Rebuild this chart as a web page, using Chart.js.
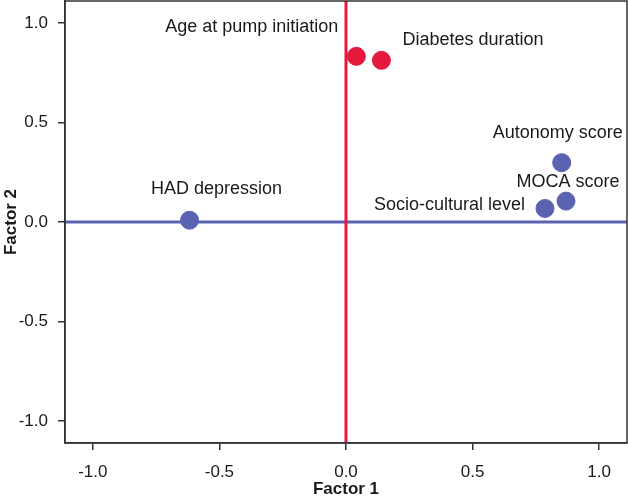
<!DOCTYPE html>
<html>
<head>
<meta charset="utf-8">
<script src="https://cdn.jsdelivr.net/npm/chart.js@4"></script>
<style>
  html, body { margin: 0; padding: 0; background: #fff; }
  #wrap { width: 628px; height: 498px; }
</style>
</head>
<body>
<div id="wrap"><canvas id="factorChart"></canvas></div>
<script>
// factor loadings
const variableNames = ["Age at pump initiation", "Diabetes duration", "Autonomy score", "MOCA score", "Socio-cultural level", "HAD depression"];
const factor1 = [0.041, 0.140, 0.852, 0.869, 0.786, -0.618];
const factor2 = [0.832, 0.812, 0.298, 0.105, 0.068, 0.009];
const groups = ["red", "red", "blue", "blue", "blue", "blue"];
const tickValues = [-1.0, -0.5, 0.0, 0.5, 1.0];
const axisMin = -1.11;
const axisMax = 1.11;

const RED = '#e5193d';
const BLUE = '#5a62b2';
const FONT = 'Arial, "Liberation Sans", Helvetica, sans-serif';

// label placement around each dot: [dx, dy, align]
const labelPlace = [
    [-18, -29, 'right'],
    [21, -20, 'left'],
    [-4, -30, 'center'],
    [2, -19, 'center'],
    [-20, -3, 'right'],
    [27, -31, 'center']
];

const points = variableNames.map((n, i) => ({ x: factor1[i], y: factor2[i] }));
const pointColors = groups.map(g => g === 'red' ? RED : BLUE);

const labelPlugin = {
    id: 'pointLabels',
    afterDatasetsDraw(chart) {
        const ctx = chart.ctx;
        const meta = chart.getDatasetMeta(2);
        ctx.save();
        ctx.font = '18px ' + FONT;
        ctx.fillStyle = '#1a1a1a';
        ctx.textBaseline = 'middle';
        meta.data.forEach((el, i) => {
            const p = labelPlace[i];
            ctx.textAlign = p[2];
            ctx.fillText(variableNames[i], el.x + p[0], el.y + p[1]);
        });
        ctx.restore();
    },
    afterDraw(chart) {
        const a = chart.chartArea;
        const ctx = chart.ctx;
        ctx.save();
        ctx.strokeStyle = '#333';
        ctx.lineWidth = 1.5;
        ctx.strokeRect(a.left, a.top, a.right - a.left, a.bottom - a.top);
        ctx.restore();
    }
};

const noPad = s => { s.paddingTop = 0; s.paddingBottom = 0; s.paddingLeft = 0; s.paddingRight = 0; };

new Chart(document.getElementById('factorChart'), {
    type: 'scatter',
    data: {
        datasets: [
            {
                type: 'line',
                data: [{ x: 0, y: axisMin }, { x: 0, y: axisMax }],
                borderColor: RED,
                borderWidth: 3,
                pointRadius: 0
            },
            {
                type: 'line',
                data: [{ x: axisMin, y: 0 }, { x: axisMax, y: 0 }],
                borderColor: BLUE,
                borderWidth: 3,
                pointRadius: 0
            },
            {
                data: points,
                backgroundColor: pointColors,
                borderColor: pointColors,
                pointRadius: 9,
                pointHoverRadius: 9
            }
        ]
    },
    options: {
        responsive: true,
        maintainAspectRatio: false,
        animation: false,
        layout: { autoPadding: false, padding: { top: 1, right: 1, left: 0, bottom: 0 } },
        plugins: {
            legend: { display: false },
            tooltip: { enabled: false }
        },
        scales: {
            x: {
                type: 'linear',
                min: axisMin,
                max: axisMax,
                afterBuildTicks: s => { s.ticks = tickValues.map(v => ({ value: v })); },
                afterFit: s => { s.height = 55; noPad(s); },
                border: { display: true, color: '#333', width: 1.5 },
                grid: { drawOnChartArea: false, drawTicks: true, tickLength: 7, color: '#333', lineWidth: 1.5 },
                ticks: {
                    padding: 12,
                    color: '#1a1a1a',
                    font: { size: 17, family: FONT },
                    callback: v => v.toFixed(1)
                },
                title: {
                    display: true,
                    text: 'Factor 1',
                    color: '#1a1a1a',
                    font: { size: 17, weight: 'bold', family: FONT, lineHeight: 1 },
                    padding: { top: 0, bottom: 0 }
                }
            },
            y: {
                type: 'linear',
                min: axisMin,
                max: axisMax,
                afterBuildTicks: s => { s.ticks = tickValues.map(v => ({ value: v })); },
                afterFit: s => { s.width = 65; noPad(s); },
                border: { display: true, color: '#333', width: 1.5 },
                grid: { drawOnChartArea: false, drawTicks: true, tickLength: 7, color: '#333', lineWidth: 1.5 },
                ticks: {
                    padding: 10,
                    color: '#1a1a1a',
                    font: { size: 17, family: FONT },
                    callback: v => v.toFixed(1)
                },
                title: {
                    display: true,
                    text: 'Factor 2',
                    color: '#1a1a1a',
                    font: { size: 17, weight: 'bold', family: FONT, lineHeight: 1 },
                    padding: { top: 3, bottom: 0 }
                }
            }
        }
    },
    plugins: [labelPlugin]
});
</script>
</body>
</html>
